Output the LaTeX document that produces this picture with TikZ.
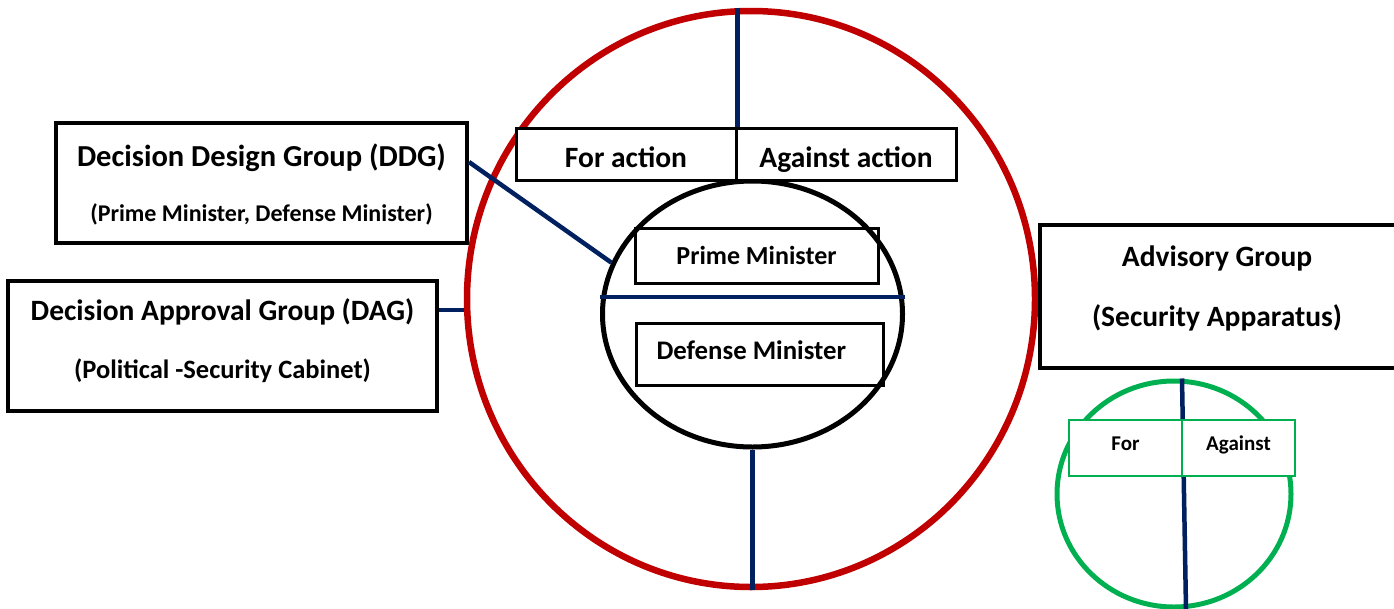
\documentclass[tikz,border=0pt]{standalone}
\usepackage{fontspec}
\setmainfont{Carlito}
\usetikzlibrary{positioning,shapes.geometric}

\definecolor{ringred}{HTML}{C00000}
\definecolor{linkblue}{HTML}{002060}
\definecolor{ringgreen}{HTML}{00B050}

\begin{document}
\begin{tikzpicture}[
  x=1pt, y=-1pt,
  ring/.style={draw, ellipse, inner sep=0pt},
  box/.style={draw, line width=4pt, inner sep=0pt},
  grouptext/.style={align=center, font=\bfseries\fontsize{29.5}{34}\selectfont},
  cell/.style={draw, line width=3pt, fill=white, inner sep=0pt, minimum width=220pt, minimum height=52pt,
    text height=28pt, text depth=1pt, font=\bfseries\fontsize{29.5}{34}\selectfont},
  member/.style={draw, line width=3pt, inner sep=0pt, font=\bfseries\fontsize{26}{30}\selectfont},
  gcell/.style={draw=ringgreen, line width=2.5pt, fill=white, inner sep=0pt, minimum width=113pt, minimum height=56pt,
    text height=15pt, text depth=9.5pt, font=\bfseries\fontsize{21}{25}\selectfont},
  link/.style={draw=linkblue, line width=4.5pt}
]
\useasboundingbox (0,0) rectangle (1394,608);

% rings
\node[ring, draw=ringred, line width=6.5pt, minimum width=568pt, minimum height=576pt] (red) at (751,299) {};
\node[ring, line width=5pt, minimum width=300pt, minimum height=266pt] (inner) at (752.5,314) {};
\node[ring, draw=ringgreen, line width=5pt, minimum width=234pt, minimum height=226pt] (green) at (1174,494) {};
\draw[link] ([xshift=8pt]green.north) -- ([xshift=12pt]green.south);

% groups
\node[box, minimum width=411pt, minimum height=120pt,
  label={[grouptext, name=ddgtext, yshift=-1pt]center:{\fontsize{30.5}{35}\selectfont Decision Design Group (DDG)\\[21pt]\fontsize{24}{29}\selectfont (Prime Minister, Defense Minister)}}]
  (ddg) at (261.5,183) {};
\node[box, minimum width=429pt, minimum height=130pt,
  label={[grouptext, name=dagtext, yshift=5pt]center:{Decision Approval Group (DAG)\\[24pt]\fontsize{26.5}{31}\selectfont (Political -Security Cabinet)}}]
  (dag) at (222.5,346) {};
\node[box, minimum width=360pt, minimum height=143pt,
  label={[grouptext, name=advtext, xshift=-3pt, yshift=8pt]center:{Advisory Group\\[26pt](Security Apparatus)}}]
  (adv) at (1220,296.5) {};

% votes
\node[cell] (foract) at (626,154) {For action};
\node[cell, right=-3pt of foract] (against) {Against action};
\node[member, minimum width=243pt, minimum height=55pt] (pm) at (756.5,255.5) {Prime Minister};
\node[member, minimum width=247pt, minimum height=62pt, text width=206pt, align=flush left, text depth=8pt,
  font=\bfseries\fontsize{26.8}{31}\selectfont] (dm) at (759.5,354) {Defense Minister};
\node[gcell] (gfor) at (1125.5,448) {For};
\node[gcell, right=-2.5pt of gfor] (gagainst) {Against};

\draw[link] ([yshift=21pt]ddg.east) -- (inner.160);
\draw[link] (dag.east |- 0,310) -- (red.west |- 0,310);
\draw[link] (foract.north east) -- (foract.north east |- red.north);
\draw[link] (inner.west |- 0,297) -- (inner.east |- 0,297);
\draw[link] (inner.south) -- (inner.south |- red.south);
\end{tikzpicture}
\end{document}
